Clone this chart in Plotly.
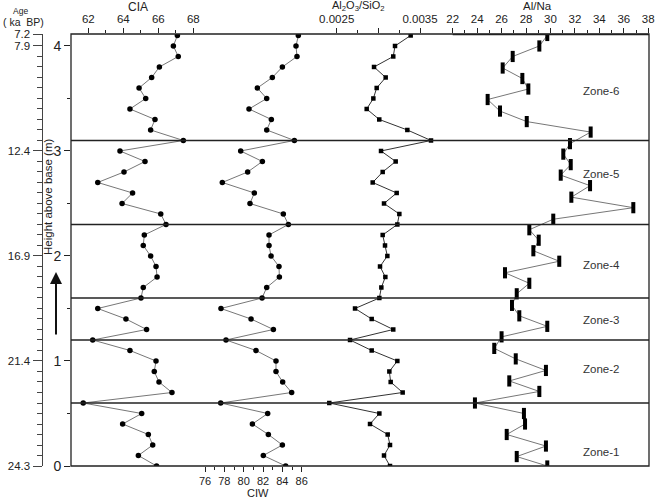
import plotly.graph_objects as go

# ---------------- data ----------------
heights = [4.1, 4.0, 3.9, 3.8, 3.7, 3.6, 3.5, 3.4, 3.3, 3.2,
           3.1, 3.0, 2.9, 2.8, 2.7, 2.6, 2.5, 2.4, 2.3, 2.2,
           2.1, 2.0, 1.9, 1.8, 1.7, 1.6, 1.5, 1.4, 1.3, 1.2,
           1.1, 1.0, 0.9, 0.8, 0.7, 0.6, 0.5, 0.4, 0.3, 0.2,
           0.1, 0.0]
cia = [67.09, 66.86, 67.14, 66.06, 65.62, 64.90, 65.28, 64.38, 65.81, 65.56,
       67.43, 63.81, 65.24, 64.04, 62.54, 64.53, 63.93, 66.14, 66.44, 65.20,
       65.14, 65.56, 65.87, 65.93, 65.14, 65.01, 62.54, 64.15, 65.33, 62.25,
       64.38, 65.87, 65.77, 66.04, 66.78, 61.71, 65.05, 63.96, 65.43, 65.68,
       64.86, 65.90]
ciw = [85.65, 85.41, 85.51, 84.00, 82.96, 81.41, 82.38, 80.55, 82.86, 82.38,
       85.24, 79.69, 81.93, 80.41, 77.79, 81.10, 80.65, 84.10, 84.62, 82.62,
       82.62, 82.83, 83.65, 83.69, 82.38, 81.90, 77.65, 80.76, 83.07, 78.17,
       81.27, 83.34, 83.34, 84.03, 84.96, 77.62, 82.48, 80.90, 82.55, 84.00,
       82.03, 84.34]
al_si = [0.003388, 0.003200, 0.003179, 0.002948, 0.003088, 0.002980, 0.002940, 0.002860, 0.003011, 0.003348,
         0.003632, 0.003032, 0.003208, 0.003052, 0.002932, 0.003220, 0.003068, 0.003252, 0.003228, 0.003052,
         0.003080, 0.003108, 0.003020, 0.003084, 0.003036, 0.003012, 0.002720, 0.002920, 0.003179, 0.002660,
         0.002920, 0.003228, 0.003132, 0.003148, 0.003292, 0.002411, 0.003012, 0.002900, 0.003112, 0.003140,
         0.003068, 0.003140]
alna_heights = [4.1, 4.0, 3.9, 3.79, 3.69, 3.59, 3.49, 3.38, 3.28, 3.18,
                3.07, 2.97, 2.87, 2.77, 2.67, 2.56, 2.46, 2.35, 2.25, 2.15,
                2.05, 1.95, 1.84, 1.74, 1.64, 1.53, 1.43, 1.33, 1.23, 1.12,
                1.02, 0.91, 0.81, 0.71, 0.60, 0.50, 0.40, 0.30, 0.19, 0.09,
                0.0]
al_na = [29.74, 29.09, 26.91, 26.09, 27.70, 28.19, 24.86, 25.87, 28.06, 33.29,
         31.60, 31.05, 31.66, 30.84, 33.24, 31.71, 36.78, 30.23, 28.27, 29.04,
         28.60, 30.72, 26.28, 28.27, 27.24, 26.85, 27.45, 29.74, 26.00, 25.40,
         27.16, 29.63, 26.63, 29.09, 23.82, 27.83, 27.92, 26.42, 29.63, 27.24,
         29.74]
zone_bounds = [0.6, 1.2, 1.6, 2.3, 3.1]
zone_names = ["Zone-1", "Zone-2", "Zone-3", "Zone-4", "Zone-5", "Zone-6"]
zone_label_h = [0.13, 0.92, 1.39, 1.91, 2.78, 3.57]
age_pos = [4.114, 4, 3, 2, 1, 0]
age_labels = ["7.2", "7.9", "12.4", "16.9", "21.4", "24.3"]

# ---------------- layout geometry ----------------
W, H = 655, 497
ML, MR, MT, MB = 0, 6, 34, 31
PW = W - ML - MR          # 649
PH = H - MT - MB          # 432
BOX_L = 71
D0 = BOX_L / PW
YMAX = 4.114

def px(x):
    return x / PW

def py(y):
    return (466 - y) / PH

FONT = "Arial, Liberation Sans, sans-serif"
TXT = "#222"

fig = go.Figure()

fig.add_trace(go.Scatter(x=cia, y=heights, xaxis="x", yaxis="y", mode="lines+markers",
                         line=dict(color="#777", width=1),
                         marker=dict(symbol="circle", size=5.5, color="black"), showlegend=False))
fig.add_trace(go.Scatter(x=ciw, y=heights, xaxis="x2", yaxis="y", mode="lines+markers",
                         line=dict(color="#777", width=1),
                         marker=dict(symbol="circle", size=5.5, color="black"), showlegend=False))
fig.add_trace(go.Scatter(x=al_si, y=heights, xaxis="x3", yaxis="y", mode="lines+markers",
                         line=dict(color="#333", width=1),
                         marker=dict(symbol="square", size=4.5, color="black"), showlegend=False))
fig.add_trace(go.Scatter(x=al_na, y=alna_heights, xaxis="x4", yaxis="y", mode="lines",
                         line=dict(color="#777", width=1), showlegend=False))
fig.add_trace(go.Scatter(x=al_na, y=alna_heights, xaxis="x4", yaxis="y", mode="markers",
                         marker=dict(symbol="line-ns", size=8, color="black",
                                     line=dict(color="black", width=4)), showlegend=False))
# invisible helper for the age axis
fig.add_trace(go.Scatter(x=[cia[0]], y=[heights[0]], xaxis="x", yaxis="y2", mode="markers",
                         marker=dict(opacity=0), hoverinfo="skip", showlegend=False))

tickfont = dict(family=FONT, size=11.5, color=TXT)
common_x = dict(domain=[D0, 1], showgrid=False, zeroline=False, showline=False,
                ticks="outside", ticklen=5, tickwidth=1, tickcolor="#222",
                tickfont=tickfont, fixedrange=True, automargin=False)

fig.update_layout(
    template="none",
    width=W, height=H, margin=dict(l=ML, r=MR, t=MT, b=MB, autoexpand=False),
    paper_bgcolor="white", plot_bgcolor="white",
    xaxis=dict(common_x, side="top", anchor="y", range=[61.011, 94.04],
               tickmode="array", tickvals=[62, 64, 66, 68],
               minor=dict(tickvals=[63, 65, 67], ticks="outside", ticklen=3, tickcolor="#222")),
    xaxis2=dict(common_x, side="bottom", anchor="y", overlaying="x", range=[62.143, 121.91],
                tickmode="array", tickvals=[76, 78, 80, 82, 84, 86],
                tickfont=dict(family=FONT, size=11, color=TXT),
                minor=dict(tickvals=[77, 79, 81, 83, 85], ticks="outside", ticklen=3, tickcolor="#222")),
    xaxis3=dict(common_x, side="top", anchor="y", overlaying="x", range=[-0.00068968, 0.0062491],
                tickmode="array", tickvals=[0.0025, 0.003, 0.0035], ticktext=["0.0025", "", "0.0035"],
                minor=dict(tickvals=[0.00275, 0.00325], ticks="outside", ticklen=3, tickcolor="#222")),
    xaxis4=dict(common_x, side="top", anchor="y", overlaying="x", range=[-9.236, 38.064],
                tickmode="array", tickvals=[22, 24, 26, 28, 30, 32, 34, 36, 38],
                minor=dict(tickvals=[23, 25, 27, 29, 31, 33, 35, 37], ticks="outside", ticklen=3, tickcolor="#222")),
    yaxis=dict(range=[0, YMAX], anchor="x", showgrid=False, zeroline=False, showline=False,
               ticks="outside", ticklen=6, tickwidth=1, tickcolor="#222",
               tickmode="array", tickvals=[0, 1, 2, 3, 4],
               tickfont=dict(family=FONT, size=14, color=TXT),
               minor=dict(tickvals=[0.5, 1.5, 2.5, 3.5], ticks="outside", ticklen=3, tickcolor="#222"),
               fixedrange=True, automargin=False),
    yaxis2=dict(range=[0, YMAX], overlaying="y", anchor="free", position=px(41.5), side="left",
                showgrid=False, zeroline=False, showline=True, linecolor="#444", linewidth=1,
                ticks="outside", ticklen=9, tickwidth=1, tickcolor="#444",
                tickmode="array", tickvals=age_pos, ticktext=age_labels,
                tickfont=dict(family=FONT, size=11.5, color=TXT),
                minor=dict(tickvals=[round(i * 0.1, 1) for i in range(1, 41) if i % 10 != 0],
                           ticks="outside", ticklen=5, tickcolor="#444"),
                fixedrange=True, automargin=False),
)

shapes = []
# box
shapes.append(dict(type="rect", xref="paper", yref="paper", x0=D0, x1=1, y0=0, y1=1,
                   line=dict(color="#222", width=1.3)))
# zone boundaries
for b in zone_bounds:
    shapes.append(dict(type="line", xref="paper", yref="y", x0=D0, x1=1, y0=b, y1=b,
                       line=dict(color="#222", width=1.3)))
# Al/Na axis line (slightly heavier)
shapes.append(dict(type="line", xref="paper", yref="paper", x0=px(452.7), x1=1, y0=py(34.5), y1=py(34.5),
                   line=dict(color="#222", width=1.6)))
fig.update_layout(shapes=shapes)


def label(x, y, text, size, **kw):
    d = dict(x=x, y=y, xref="paper", yref="paper", text=text, showarrow=False,
             xanchor="center", yanchor="middle", font=dict(family=FONT, size=size, color=TXT))
    d.update(kw)
    return d


ann = []
for name, h in zip(zone_names, zone_label_h):
    a = label(px(601), h, name, 11.5)
    a["yref"] = "y"
    a["font"]["color"] = "#333"
    ann.append(a)
ann.append(label(px(138), py(7), "CIA", 12))
ann.append(label(px(358), py(6), "Al<sub>2</sub>O<sub>3</sub>/SiO<sub>2</sub>", 11))
ann.append(label(px(537), py(6.5), "Al/Na", 11.5))
ann.append(label(px(258), py(492.5), "CIW", 11))
ann.append(label(px(20), py(11), "Age", 8.5))
ann.append(label(px(23), py(22.5), "( ka  BP)", 10.5))
ann.append(label(px(48), py(197), "Height above base (m)", 11.5, textangle=-90))
ann.append(dict(x=px(56), y=py(272), xref="paper", yref="paper", text="", showarrow=True,
                ax=0, ay=64, arrowhead=2, arrowsize=1.2, arrowwidth=2, arrowcolor="#111",
                standoff=0, startstandoff=0))
fig.update_layout(annotations=ann)

fig.write_html("out.html", config={"displayModeBar": False},
               post_script="document.body.style.margin='0';document.body.style.overflow='hidden';")
